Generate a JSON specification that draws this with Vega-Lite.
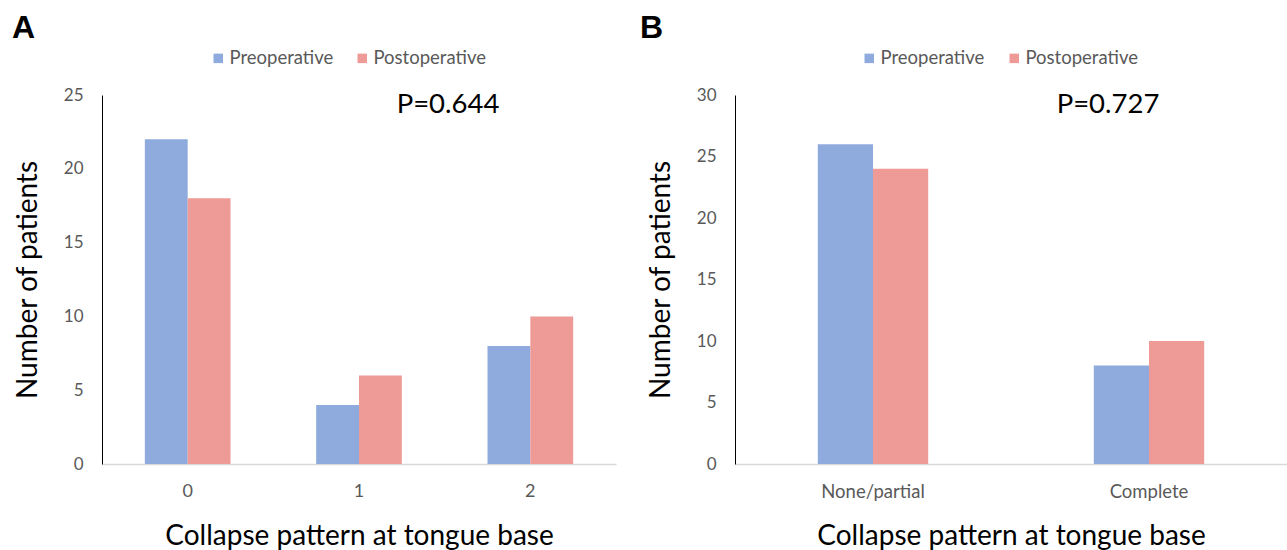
{
  "$schema": "https://vega.github.io/schema/vega-lite/v6.json",
  "padding": {"left": 12, "top": 12, "right": 0, "bottom": 0},
  "background": "white",
  "config": {
    "view": {"stroke": null},
    "font": "Lato",
    "axis": {"labelFont": "Lato", "titleFont": "Lato", "labelColor": "#595959", "labelFontSize": 17, "titleFontSize": 28, "titleFontWeight": "normal", "titleColor": "#000000", "ticks": false, "grid": false},
    "legend": {"labelFont": "Lato", "labelFontSize": 18.5, "labelColor": "#595959"},
    "title": {"font": "Liberation Sans", "fontSize": 32, "fontWeight": "bold", "anchor": "start", "frame": "group", "color": "#000000"}
  },
  "spacing": 24,
  "hconcat": [
    {
      "title": {"text": "A", "dx": -90},
      "width": 514,
      "height": 369,
      "data": {"values": [
        {"cat": "0", "group": "Preoperative", "n": 22},
        {"cat": "0", "group": "Postoperative", "n": 18},
        {"cat": "1", "group": "Preoperative", "n": 4},
        {"cat": "1", "group": "Postoperative", "n": 6},
        {"cat": "2", "group": "Preoperative", "n": 8},
        {"cat": "2", "group": "Postoperative", "n": 10}
      ]},
      "layer": [
        {
          "mark": {"type": "bar"},
          "encoding": {
            "x": {"field": "cat", "type": "nominal", "sort": ["0", "1", "2"], "scale": {"paddingInner": 0.5, "paddingOuter": 0.25},
              "axis": {"title": "Collapse pattern at tongue base", "labelAngle": 0, "labelFontSize": 18, "labelPadding": 18, "titlePadding": 22, "domainColor": "#d9d9d9", "domainWidth": 1.5}},
            "xOffset": {"field": "group", "sort": ["Preoperative", "Postoperative"], "scale": {"paddingInner": 0, "paddingOuter": 0}},
            "y": {"field": "n", "type": "quantitative", "scale": {"domain": [0, 25], "nice": false},
              "axis": {"title": "Number of patients", "values": [0, 5, 10, 15, 20, 25], "labelPadding": 19, "titlePadding": 21, "domainColor": "#000000"}},
            "color": {"field": "group", "type": "nominal", "sort": ["Preoperative", "Postoperative"],
              "scale": {"domain": ["Preoperative", "Postoperative"], "range": ["#8FAADC", "#EE9A97"]},
              "legend": {"title": null, "orient": "none", "legendX": 107, "legendY": -46, "direction": "horizontal", "symbolType": "square", "symbolSize": 90, "symbolStrokeWidth": 0, "symbolOpacity": 1, "columnPadding": 19, "labelOffset": 2}}
          }
        },
        {
          "data": {"values": [{"cat": "1", "n": 24.3, "label": "P=0.644"}]},
          "mark": {"type": "text", "fontSize": 27.5, "font": "Lato", "color": "#000000", "dx": 89, "baseline": "middle"},
          "encoding": {
            "x": {"field": "cat", "type": "nominal", "sort": ["0", "1", "2"]},
            "y": {"field": "n", "type": "quantitative"},
            "text": {"field": "label"}
          }
        }
      ]
    },
    {
      "title": {"text": "B", "dx": -95},
      "width": 552,
      "height": 369,
      "data": {"values": [
        {"cat": "None/partial", "group": "Preoperative", "n": 26},
        {"cat": "None/partial", "group": "Postoperative", "n": 24},
        {"cat": "Complete", "group": "Preoperative", "n": 8},
        {"cat": "Complete", "group": "Postoperative", "n": 10}
      ]},
      "layer": [
        {
          "mark": {"type": "bar"},
          "encoding": {
            "x": {"field": "cat", "type": "nominal", "sort": ["None/partial", "Complete"], "scale": {"paddingInner": 0.6, "paddingOuter": 0.3},
              "axis": {"title": "Collapse pattern at tongue base", "labelAngle": 0, "labelFontSize": 18.5, "labelPadding": 18, "titlePadding": 22, "domainColor": "#d9d9d9", "domainWidth": 1.5}},
            "xOffset": {"field": "group", "sort": ["Preoperative", "Postoperative"], "scale": {"paddingInner": 0, "paddingOuter": 0}},
            "y": {"field": "n", "type": "quantitative", "scale": {"domain": [0, 30], "nice": false},
              "axis": {"title": "Number of patients", "values": [0, 5, 10, 15, 20, 25, 30], "labelPadding": 19, "titlePadding": 21, "domainColor": "#000000"}},
            "color": {"field": "group", "type": "nominal", "sort": ["Preoperative", "Postoperative"],
              "scale": {"domain": ["Preoperative", "Postoperative"], "range": ["#8FAADC", "#EE9A97"]},
              "legend": {"title": null, "orient": "none", "legendX": 125, "legendY": -46, "direction": "horizontal", "symbolType": "square", "symbolSize": 90, "symbolStrokeWidth": 0, "symbolOpacity": 1, "columnPadding": 20, "labelOffset": 2}}
          }
        },
        {
          "data": {"values": [{"cat": "Complete", "n": 29.2, "label": "P=0.727"}]},
          "mark": {"type": "text", "fontSize": 27.5, "font": "Lato", "color": "#000000", "dx": -41, "baseline": "middle"},
          "encoding": {
            "x": {"field": "cat", "type": "nominal", "sort": ["None/partial", "Complete"]},
            "y": {"field": "n", "type": "quantitative"},
            "text": {"field": "label"}
          }
        }
      ]
    }
  ],
  "resolve": {"scale": {"color": "independent", "x": "independent", "y": "independent", "xOffset": "independent"}, "legend": {"color": "independent"}}
}
